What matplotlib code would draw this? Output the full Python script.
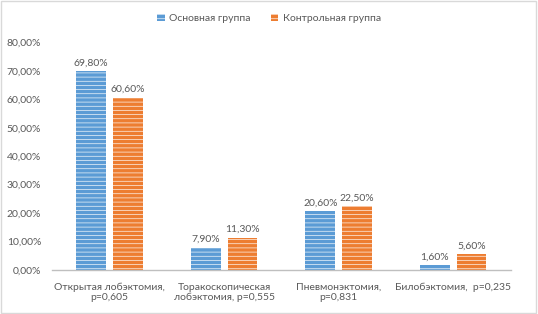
import numpy as np
import matplotlib.pyplot as plt
from matplotlib.patches import Rectangle

plt.rcParams['font.family'] = ['Lato', 'DejaVu Sans']
plt.rcParams['hatch.color'] = 'white'
plt.rcParams['hatch.linewidth'] = 0.45

categories = ["Открытая лобэктомия,\np=0,605",
              "Торакоскопическая\nлобэктомия, p=0,555",
              "Пневмонэктомия,\np=0,831",
              "Билобэктомия,  p=0,235"]
main_group = [69.8, 7.9, 20.6, 1.6]
control_group = [60.6, 11.3, 22.5, 5.6]
series_names = ["Основная группа", "Контрольная группа"]
yticks = [0, 10, 20, 30, 40, 50, 60, 70, 80]

blue = '#5B9BD5'
orange = '#ED7D31'
text_col = '#595959'

fig = plt.figure(figsize=(5.38, 3.14), dpi=100)
fig.patches.append(Rectangle((0.002, 0.003), 0.995, 0.993, transform=fig.transFigure,
                             fill=False, edgecolor='#D9D9D9', linewidth=1))
ax = fig.add_axes([0.097, 0.14, 0.852, 0.725])

x = np.arange(len(categories))
w = 0.26
gap = 0.03
b1 = ax.bar(x - w / 2 - gap, main_group, w, color=blue, hatch='----',
            edgecolor='white', linewidth=0, label=series_names[0])
b2 = ax.bar(x + w / 2 + gap, control_group, w, color=orange, hatch='----',
            edgecolor='white', linewidth=0, label=series_names[1])

for bars, vals in ((b1, main_group), (b2, control_group)):
    for r, v in zip(bars, vals):
        ax.text(r.get_x() + r.get_width() / 2, v + 1.3, f"{v:.2f}%".replace('.', ','),
                ha='center', va='bottom', fontsize=7.5, color=text_col)

ax.set_xlim(-0.5, len(categories) - 0.5)
ax.set_ylim(0, 80)
ax.set_yticks(yticks)
ax.set_yticklabels([f"{t:.2f}%".replace('.', ',') for t in yticks])
ax.set_xticks(x)
ax.set_xticklabels(categories)
ax.tick_params(axis='both', length=0, labelsize=7.5, colors=text_col)
ax.tick_params(axis='x', pad=9)
ax.tick_params(axis='y', pad=8)
for s in ['top', 'right', 'left']:
    ax.spines[s].set_visible(False)
ax.spines['bottom'].set_color('#BFBFBF')
ax.spines['bottom'].set_linewidth(1)

leg = fig.legend(loc='upper center', bbox_to_anchor=(0.5, 0.985), ncol=2, frameon=False,
                 fontsize=7.5, handlelength=0.7, handleheight=0.7, handletextpad=0.4,
                 columnspacing=2.0)
for t in leg.get_texts():
    t.set_color(text_col)

fig.savefig('out.png', dpi=100)
